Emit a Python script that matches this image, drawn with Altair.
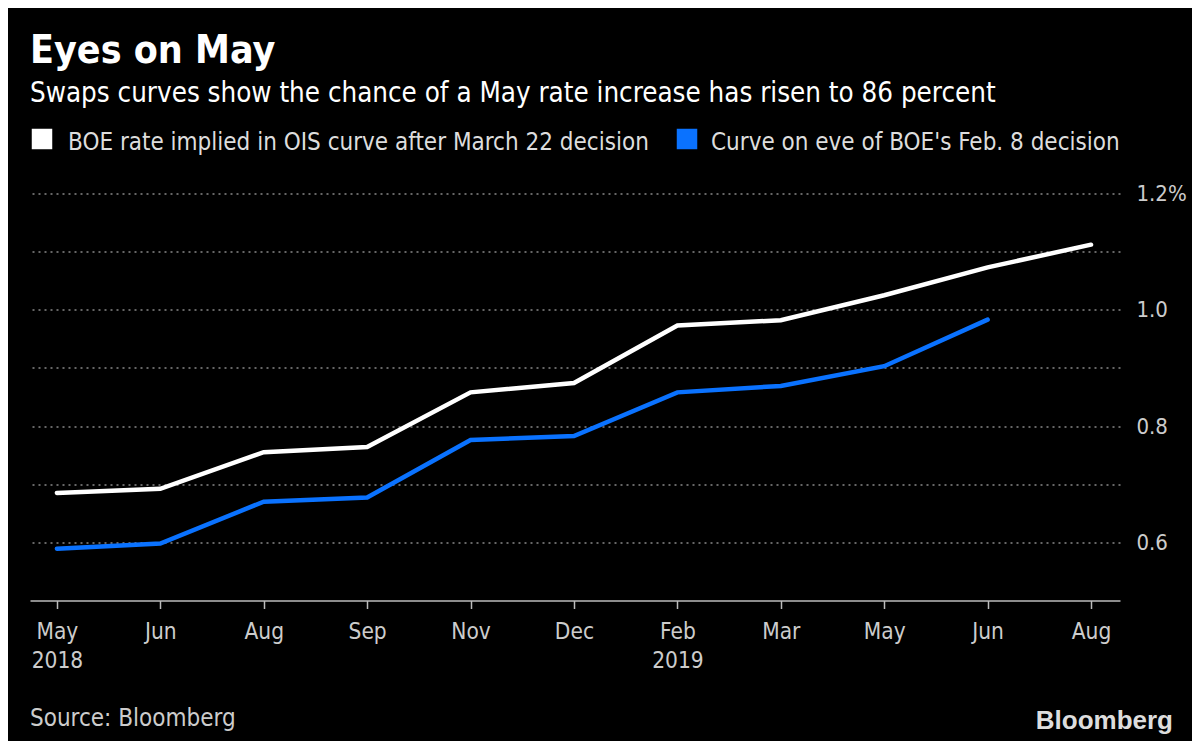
import altair as alt
import pandas as pd

months = ["May", "Jun", "Aug", "Sep", "Nov", "Dec", "Feb", "Mar", "May", "Jun", "Aug"]
years = ["2018", "", "", "", "", "", "2019", "", "", "", ""]
white_vals = [0.685, 0.692, 0.755, 0.764, 0.858, 0.874, 0.973, 0.982, 1.025, 1.073, 1.112]
blue_vals = [0.589, 0.598, 0.670, 0.677, 0.776, 0.783, 0.858, 0.869, 0.903, 0.983]

s_white = "BOE rate implied in OIS curve after March 22 decision"
s_blue = "Curve on eve of BOE's Feb. 8 decision"

rows = []
for i, v in enumerate(white_vals):
    rows.append({"idx": i, "series": s_white, "value": v})
for i, v in enumerate(blue_vals):
    rows.append({"idx": i, "series": s_blue, "value": v})
df = pd.DataFrame(rows)

FONT = "DejaVu Sans Condensed, Liberation Sans Narrow, sans-serif"
W, H = 1090, 407

label_js = "[" + ",".join(
    "[" + ",".join(f"'{p}'" for p in ([m, y] if y else [m])) + "]"
    for m, y in zip(months, years)
) + "]"

x_enc = alt.X(
    "idx:Q",
    scale=alt.Scale(domain=[-0.26, 10.28], nice=False, zero=False),
    axis=alt.Axis(
        values=list(range(11)),
        labelExpr=f"{label_js}[datum.value]",
        title=None,
        grid=False,
        domainColor="#bbbbbb",
        domainWidth=1.5,
        tickColor="#bbbbbb",
        tickSize=8,
        tickWidth=1.5,
        labelColor="#cccccc",
        labelFontSize=22.5,
        labelFont=FONT,
        labelPadding=12,
        labelLineHeight=29,
        labelBaseline="top",
        labelFlush=False,
    ),
)

y_enc = alt.Y(
    "value:Q",
    scale=alt.Scale(domain=[0.5, 1.2], nice=False, zero=False),
    axis=alt.Axis(
        orient="right",
        values=[0.6, 0.7, 0.8, 0.9, 1.0, 1.1, 1.2],
        labelExpr="datum.value > 1.15 ? '1.2%' : (round(datum.value*10) % 2 == 0 ? format(datum.value, '.1f') : '')",
        title=None,
        domain=False,
        ticks=False,
        grid=True,
        gridColor="#888888",
        gridDash=[2, 4],
        gridWidth=1.5,
        labelColor="#cccccc",
        labelFontSize=22,
        labelFont=FONT,
        labelPadding=16,
        labelAlign="left",
    ),
)

lines = alt.Chart(df).mark_line(strokeWidth=4.5, strokeCap="round").encode(
    x=x_enc,
    y=y_enc,
    color=alt.Color(
        "series:N",
        scale=alt.Scale(domain=[s_white, s_blue], range=["#ffffff", "#0a72ff"]),
        legend=None,
    ),
    detail="series:N",
)


def txt(text, x, y, size, color, weight="normal", align="left", font=FONT):
    return alt.Chart(pd.DataFrame({"t": [text]})).mark_text(
        font=font, fontSize=size, color=color, fontWeight=weight,
        align=align, baseline="alphabetic",
    ).encode(x=alt.value(x), y=alt.value(y), text="t:N")


def sq(x, y, color):
    return alt.Chart(pd.DataFrame({"t": [1]})).mark_square(
        size=420, color=color, opacity=1, filled=True
    ).encode(x=alt.value(x), y=alt.value(y))


title = txt("Eyes on May", 0, -130.5, 39, "#ffffff", weight="bold")
subtitle = txt("Swaps curves show the chance of a May rate increase has risen to 86 percent", 0, -91.5, 27.5, "#ffffff")
leg1 = txt(s_white, 38, -44, 24, "#dddddd")
leg2 = txt(s_blue, 681, -44, 24, "#dddddd")
sq1 = sq(12, -54.5, "#ffffff")
sq2 = sq(657, -54.5, "#0a72ff")
source = txt("Source: Bloomberg", 0, 532, 24, "#cccccc")
logo = txt("Bloomberg", 1143, 535, 26, "#dddddd", weight="bold", align="right",
           font="Liberation Sans, Arial, sans-serif")

chart = alt.layer(
    lines, title, subtitle, sq1, leg1, sq2, leg2, source, logo
).properties(
    width=W,
    height=H,
    background="#000000",
    padding={"left": 22, "top": 185.5, "right": 72, "bottom": 140.5},
    autosize=alt.AutoSizeParams(type="none"),
).configure_view(stroke=None)

chart.save("out.html", embed_options={"renderer": "svg", "actions": False})
